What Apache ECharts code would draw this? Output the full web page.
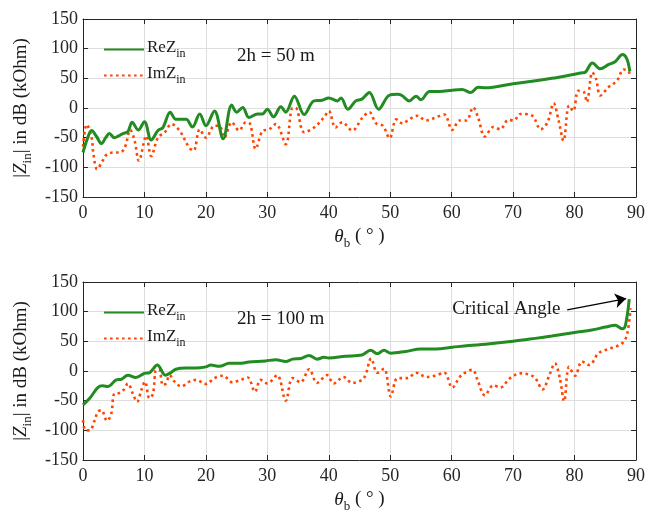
<!DOCTYPE html>
<html>
<head>
<meta charset="utf-8">
<script src="https://cdn.jsdelivr.net/npm/echarts@6/dist/echarts.min.js"></script>
<style>html,body{margin:0;padding:0;background:#fff;}#c{width:648px;height:514px;}</style>
</head>
<body>
<div id="c"></div>
<script>
// ---- Data ----
// Top panel: 2h = 50 m
const topReAngles = [0,0.7,1.4,2.2,3,3.7,4.3,5.1,5.8,6.5,7.3,8,9,10,11.1,12.2,13,14.2,15.1,16,16.8,17.8,19,20,21.4,22.8,24.2,25,26,27,28.4,29.2,30,31,32.2,33,34.4,36,37.6,38.9,40,41.4,42,43.1,44.4,45.4,46.6,48.1,49.8,51.2,51.9,53.1,54.2,55,56.4,58,60.1,61.7,63.1,64.3,65.5,70,73.1,76.3,80,81,81.7,82.9,84.2,85.5,86.6,87.8,88.5,89];
const topReValues = [-75,-52,-38,-48,-60,-50,-43,-50,-47,-43,-40,-24,-37,-23,-54,-38,-33,-7,-19,-19,-19,-32,-10,-30,-5,-52,5,-7,1,-16,-10,-10,-2,-15,2,-7,20,-11,12,13,17,12,17,-2,12,15,26,-2,21,23,21,12,20,14,28,28,30,31,26,35,34,41,45,50,57,59,60,76,66,73,78,90,83,62];
const topImAngles = [0,0.6,1.4,1.7,2.3,3.2,3.8,4.9,6,6.8,7.7,8.4,9.1,10.3,11.1,12.2,13.3,14.4,15.7,17.3,18,19,20,21.4,22.2,23,24.2,25.4,26.5,27.2,28.1,29.2,30.3,31.4,33,34.1,34.6,36,37.6,39.2,40,41.1,42.2,43.8,45.5,46.6,47.7,48.8,49.9,51,52,53.1,54.4,55.8,57.4,58.8,60.1,61.3,62.4,63.5,64.3,65.4,66.8,67.9,69.2,70.1,71.2,73.1,74.5,75.6,76.6,77.4,78.2,79.1,79.8,80.6,81.5,82,82.9,83.5,84.2,85.5,86.9,88,88.8,89];
const topImValues = [-65,-28,-50,-78,-103,-89,-79,-75,-75,-67,-37,-55,-89,-47,-81,-50,-41,-27,-38,-67,-72,-36,-50,-30,-30,-50,-24,-38,-24,-27,-69,-39,-36,-27,-61,0,0,-41,-33,-16,-5,-33,-24,-38,-16,-7,-26,-30,-51,-19,-26,-19,-13,-21,-16,-11,-37,-21,-21,1,-16,-48,-32,-36,-20,-21,-10,-13,-36,-24,8,-21,-55,4,-5,29,27,10,60,49,21,35,46,65,62,53];
// Bottom panel: 2h = 100 m
const botReAngles = [0,1.1,2.4,3.2,4.1,5.4,6.2,7.3,8.6,10,10.8,12.1,13.4,14.1,15.1,16.8,18.4,20,20.8,22.2,23.8,25.4,27,29.7,31.4,33,34.1,35.4,36.8,38.1,39.2,40,42.7,45.4,46.8,47.9,49,50.1,52.5,55,57.4,60.1,62.8,65.5,70,73.6,76.3,80,82.8,85,86.6,87.8,88.3,88.9];
const botReValues = [-57,-46,-28,-25,-26,-15,-14,-7,-11,-4,-3,10,-7,-4,3,5,5,7,10,8,13,13,15,17,19,16,20,21,26,20,23,22,25,27,35,29,35,30,33,37,37,40,43,45,50,55,59,65,69,74,77,71,78,121];
const botImAngles = [0,0.4,1.1,1.9,2.4,3,3.9,4.6,5.1,5.9,6.6,7.3,8.1,8.8,9.5,10.1,10.8,11.4,11.9,12.4,13,13.5,14.1,14.9,16,17.3,18.4,20,21.4,22.8,24.3,25.7,26.8,28,28.9,30,31.6,33,34.1,35.4,36.8,38.1,39.7,40.8,42.4,43.8,45.7,46.9,47.9,49,50.1,51.2,52.8,54.2,55.9,57.2,58.8,60.1,61.5,63.4,64.2,65.4,66.8,67.9,69.5,71.2,73.4,74.8,75.9,76.8,77.6,78.3,79.1,80.1,81.2,82.4,83.9,85.5,87.8,88.6,89.1];
const botImValues = [-83,-100,-100,-83,-69,-66,-84,-72,-38,-37,-32,-21,-38,-52,-32,-18,-46,-38,2,2,-24,-21,-7,-18,-26,-18,-15,-22,-12,-8,-19,-15,-11,-35,-15,-21,-7,-50,-12,-19,3,-20,-7,-21,-10,-20,-12,21,-3,4,-43,-12,-12,-3,-10,-8,-3,-28,-8,2,-15,-41,-24,-28,-12,-4,-10,-31,-7,13,-12,-51,7,-8,16,10,30,37,47,64,106];

const xTicks = {min: 0, max: 90, interval: 10};
const yTicks = {min: -150, max: 150, interval: 50};
const panelLabels = ['2h = 50 m', '2h = 100 m'];
const seriesLabels = ['ReZ', 'ImZ'];
const criticalArrow = {from: [78.8, 103], to: [88.4, 122], text: 'Critical Angle', textAt: [68.9, 105]};

// ---- Styles ----
const FONT = '"Liberation Serif", "Times New Roman", serif';
const GREEN = '#228B22';
const ORANGE = '#FF4500';
const AXIS = '#262626';
const GRID = '#dedede';

function pairs(xs, ys) { const n = Math.min(xs.length, ys.length); const out = []; for (let i = 0; i < n; i++) out.push([xs[i], ys[i]]); return out; }

const grids = [
  {left: 83, right: 11, top: 19, height: 178},
  {left: 83, right: 11, top: 282, height: 178}
];

const subRich = {
  n: {fontSize: 19, fontFamily: FONT, color: '#1a1a1a', verticalAlign: 'top'},
  s: {fontSize: 13, fontFamily: FONT, color: '#1a1a1a', verticalAlign: 'top', padding: [10, 0, 0, 0]},
  i: {fontSize: 19, fontFamily: FONT, color: '#1a1a1a', fontStyle: 'italic', verticalAlign: 'top'}
};

const xAxes = [], yAxes = [];
[0, 1].forEach(g => {
  xAxes.push({
    type: 'value', gridIndex: g, min: xTicks.min, max: xTicks.max, interval: xTicks.interval,
    position: 'bottom',
    axisLine: {show: true, onZero: false, lineStyle: {color: AXIS, width: 1}},
    axisTick: {show: true, inside: true, length: 5, lineStyle: {color: AXIS}},
    axisLabel: {color: '#262626', fontFamily: FONT, fontSize: 18, margin: 7},
    splitLine: {show: true, lineStyle: {color: GRID, width: 1}},
    name: '{i|θ}{s|b}{n| ( ° )}', nameLocation: 'middle', nameGap: 30,
    nameTextStyle: {rich: subRich}
  });
  xAxes.push({
    type: 'value', gridIndex: g, min: xTicks.min, max: xTicks.max, interval: xTicks.interval,
    position: 'top',
    axisLine: {show: true, onZero: false, lineStyle: {color: AXIS, width: 1}},
    axisTick: {show: true, inside: true, length: 5, lineStyle: {color: AXIS}},
    axisLabel: {show: false}, splitLine: {show: false}
  });
  yAxes.push({
    type: 'value', gridIndex: g, min: yTicks.min, max: yTicks.max, interval: yTicks.interval,
    position: 'left',
    axisLine: {show: true, onZero: false, lineStyle: {color: AXIS, width: 1}},
    axisTick: {show: true, inside: true, length: 5, lineStyle: {color: AXIS}},
    axisLabel: {color: '#262626', fontFamily: FONT, fontSize: 18, margin: 5},
    splitLine: {show: true, lineStyle: {color: GRID, width: 1}},
    name: '{n||}{i|Z}{s|in}{n|| in dB (kOhm)}', nameLocation: 'middle', nameRotate: 90, nameGap: 48,
    nameTextStyle: {rich: subRich}
  });
  yAxes.push({
    type: 'value', gridIndex: g, min: yTicks.min, max: yTicks.max, interval: yTicks.interval,
    position: 'right',
    axisLine: {show: true, onZero: false, lineStyle: {color: AXIS, width: 1}},
    axisTick: {show: true, inside: true, length: 5, lineStyle: {color: AXIS}},
    axisLabel: {show: false}, splitLine: {show: false}
  });
});

const series = [];
const data = [
  [pairs(topReAngles, topReValues), pairs(topImAngles, topImValues)],
  [pairs(botReAngles, botReValues), pairs(botImAngles, botImValues)]
];
[0, 1].forEach(g => {
  series.push({
    name: seriesLabels[0] + ' ' + g, type: 'line', xAxisIndex: g * 2, yAxisIndex: g * 2,
    data: data[g][0], smooth: 0.35, symbol: 'none', z: 3,
    lineStyle: {color: GREEN, width: 3}, itemStyle: {color: GREEN},
    markLine: g === 1 ? {
      silent: true, symbol: ['none', 'arrow'], symbolSize: 11,
      lineStyle: {color: '#000', width: 1.3, type: 'solid'},
      label: {show: false},
      data: [[{coord: criticalArrow.from}, {coord: criticalArrow.to}]]
    } : undefined,
    markPoint: g === 1 ? {
      silent: true, symbol: 'circle', symbolSize: 0,
      label: {show: true, formatter: criticalArrow.text, color: '#1a1a1a', fontFamily: FONT, fontSize: 19, position: 'inside'},
      data: [{coord: criticalArrow.textAt}]
    } : undefined
  });
  series.push({
    name: seriesLabels[1] + ' ' + g, type: 'line', xAxisIndex: g * 2, yAxisIndex: g * 2,
    data: data[g][1], smooth: 0.35, symbol: 'none', z: 2,
    lineStyle: {color: ORANGE, width: 2.6, type: [2.6, 3.4]}, itemStyle: {color: ORANGE}
  });
});

const legendRich = {
  n: {fontSize: 17, fontFamily: FONT, color: '#1a1a1a', verticalAlign: 'top'},
  s: {fontSize: 12, fontFamily: FONT, color: '#1a1a1a', verticalAlign: 'top', padding: [9, 0, 0, 0]}
};
const legends = [0, 1].map(g => ({
  orient: 'vertical', left: 103, top: grids[g].top + 20, itemGap: 5, padding: 0,
  itemWidth: 40, itemHeight: 14,
  itemStyle: {opacity: 0},
  data: [seriesLabels[0] + ' ' + g, seriesLabels[1] + ' ' + g],
  formatter: name => '{n|' + name.split(' ')[0] + '}{s|in}',
  textStyle: {rich: legendRich, padding: [0, 0, 0, -2]},
  selectedMode: false
}));

const titles = [0, 1].map(g => ({
  text: panelLabels[g], left: 237, top: grids[g].top + 28, padding: 0,
  textStyle: {fontFamily: FONT, fontSize: 19, fontWeight: 'normal', color: '#1a1a1a'}
}));

const chart = echarts.init(document.getElementById('c'), null, {renderer: 'canvas'});
chart.setOption({
  animation: false,
  backgroundColor: '#fff',
  title: titles,
  legend: legends,
  grid: grids,
  xAxis: xAxes,
  yAxis: yAxes,
  series: series
});
</script>
</body>
</html>
